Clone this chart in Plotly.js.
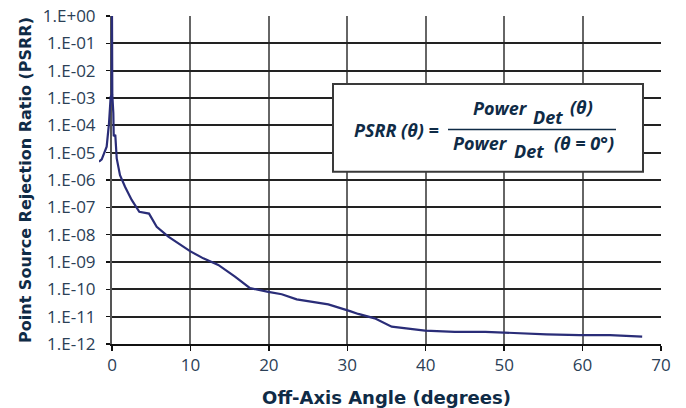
<!DOCTYPE html>
<html>
<head>
<meta charset="utf-8">
<script src="https://cdn.plot.ly/plotly-3.0.1.min.js"></script>
<style>
html,body{margin:0;padding:0;background:#fff;}
#chart{width:686px;height:408px;}
</style>
</head>
<body>
<div id="chart"></div>
<script>
// Data
const angleDeg = [-1.66, -1.31, -0.68, -0.38, -0.17, -0.04, 0, 0.04, 0.17, 0.22, 0.42, 0.5, 0.6, 1.02, 1.66, 2.51, 3.48, 4.72, 5.70, 7.18, 9.95, 11.64, 13.55, 15.68, 17.6, 19.93, 21.64, 23.55, 27.58, 30.35, 31.4, 33.5, 35.66, 39.9, 43.7, 47.6, 51.6, 55.4, 59.6, 63.5, 67.6];
const psrr = [4.7e-6, 5.7e-6, 1.65e-5, 1.2e-4, 1.1e-3, 1.3e-3, 1.0, 1.3e-3, 2.8e-4, 4.0e-5, 4.5e-5, 1.2e-5, 6.2e-6, 1.5e-6, 5.7e-7, 1.86e-7, 6.9e-8, 5.9e-8, 1.95e-8, 8.5e-9, 2.5e-9, 1.36e-9, 7.8e-10, 2.9e-10, 1.1e-10, 8.1e-11, 6.6e-11, 4.3e-11, 2.8e-11, 1.6e-11, 1.26e-11, 8.7e-12, 4.3e-12, 3.1e-12, 2.8e-12, 2.8e-12, 2.45e-12, 2.24e-12, 2.1e-12, 2.1e-12, 1.86e-12];
const xTickVals = [0, 10, 20, 30, 40, 50, 60, 70];
const yTickVals = [1e-12, 1e-11, 1e-10, 1e-9, 1e-8, 1e-7, 1e-6, 1e-5, 1e-4, 1e-3, 1e-2, 1e-1, 1e0];
const yTickText = ["1.E-12", "1.E-11", "1.E-10", "1.E-09", "1.E-08", "1.E-07", "1.E-06", "1.E-05", "1.E-04", "1.E-03", "1.E-02", "1.E-01", "1.E+00"];
const xTitle = "Off-Axis Angle (degrees)";
const yTitle = "Point Source Rejection Ratio (PSRR)";

const W = 686, H = 408;
const mL = 99, mR = 25, mT = 16, mB = 64;
const plotW = W - mL - mR;      // 562
const extra = 13;               // px the curve may extend left of the axis
const pxPerDeg = (plotW - extra) / 70;
const fx = px => (px - mL) / plotW;
const fy = py => (H - mB - py) / (H - mT - mB);

const fontFam = "'Open Sans', Lato, sans-serif";
const titleFam = "'DejaVu Sans', 'Open Sans', sans-serif";
const navy = "#0f2b46";
const tickCol = "#2b4056";
const eqFont = {family: fontFam, size: 18, color: navy, weight: 700, style: "italic"};

// empty trace so the main (axes + grid) subplot is created
const axesTrace = {x: [], y: [], type: "scatter", mode: "lines", xaxis: "x", yaxis: "y", hoverinfo: "skip"};
const trace = {
  x: angleDeg, y: psrr, type: "scatter", mode: "lines",
  xaxis: "x2", yaxis: "y2",
  line: {color: "#2a2d78", width: 2.2},
  hoverinfo: "skip"
};

const ann = (text, px, py, xanchor) => ({text, x: fx(px), y: fy(py), xref: "paper", yref: "paper",
  showarrow: false, font: eqFont, xanchor: xanchor || "center", yanchor: "middle"});

const layout = {
  width: W, height: H,
  margin: {l: mL, r: mR, t: mT, b: mB},
  paper_bgcolor: "#fff", plot_bgcolor: "rgba(0,0,0,0)",
  showlegend: false,
  font: {family: fontFam},
  xaxis: {
    domain: [extra / plotW, 1], range: [0, 70], anchor: "y",
    tickvals: xTickVals, ticktext: xTickVals.map(String),
    showgrid: true, gridcolor: "#666", gridwidth: 2,
    zeroline: false,
    showline: true, linecolor: "#111", linewidth: 1.5,
    ticks: "outside", ticklen: 5, tickcolor: "#111", tickwidth: 1.5,
    tickfont: {family: fontFam, size: 17, color: tickCol},
    title: {text: xTitle, font: {family: titleFam, size: 18, color: navy, weight: 700}, standoff: 19},
    fixedrange: true
  },
  yaxis: {
    type: "log", range: [-12, 0], anchor: "x",
    tickvals: yTickVals, ticktext: yTickText,
    showgrid: true, gridcolor: "#222", gridwidth: 1.8,
    zeroline: false,
    showline: true, linecolor: "#555", linewidth: 2,
    ticks: "outside", ticklen: 4, tickcolor: "#111", tickwidth: 1.5,
    ticklabelstandoff: 7,
    tickfont: {family: fontFam, size: 17, color: tickCol},
    title: {text: yTitle, font: {family: titleFam, size: 16, color: navy, weight: 700}, standoff: 7},
    fixedrange: true
  },
  xaxis2: {
    domain: [0, 1], range: [-extra / pxPerDeg, 70], anchor: "y2",
    visible: false, fixedrange: true
  },
  yaxis2: {
    type: "log", range: [-12, 0], anchor: "x2",
    visible: false, fixedrange: true
  },
  shapes: [
    {type: "rect", xref: "paper", yref: "paper", x0: fx(333), x1: fx(643), y0: fy(171.7), y1: fy(84),
     line: {color: "#3a3a3a", width: 2}, fillcolor: "#fff", layer: "above"},
    {type: "line", xref: "paper", yref: "paper", x0: fx(448), x1: fx(616), y0: fy(129.5), y1: fy(129.5),
     line: {color: navy, width: 1.6}, layer: "above"}
  ],
  annotations: [
    ann("PSRR (θ) =", 396.5, 130),
    ann("Power", 471, 108, "left"),
    ann("Det", 531, 116.7, "left"),
    ann("(θ)", 568, 107, "left"),
    ann("Power", 451, 142.7, "left"),
    ann("Det", 512, 151, "left"),
    ann("(θ = 0°)", 616, 143.3, "right")
  ]
};

Plotly.newPlot("chart", [axesTrace, trace], layout, {displayModeBar: false, staticPlot: true});
</script>
</body>
</html>
